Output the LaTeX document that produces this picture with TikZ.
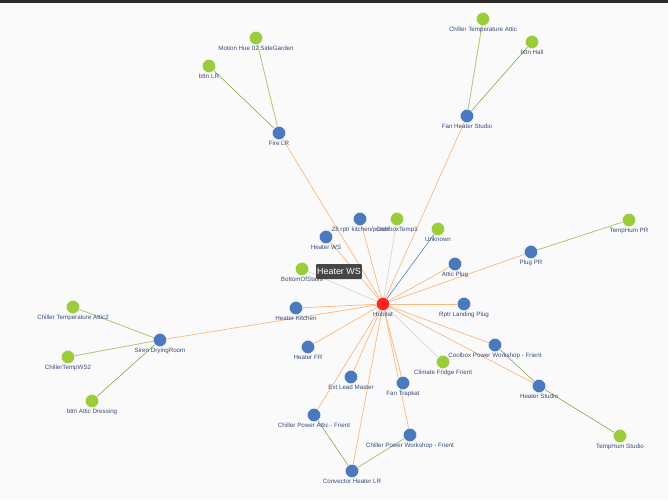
\documentclass[tikz,border=0pt]{standalone}
\usepackage{fontspec}
\setmainfont{Liberation Sans}
\usepackage{xcolor}
\usepackage{tikz}
\usetikzlibrary{backgrounds}
\definecolor{hbbg}{RGB}{250,250,250}
\definecolor{hbbar}{RGB}{45,41,38}
\definecolor{hbblue}{RGB}{74,122,189}
\definecolor{hbgreen}{RGB}{154,204,60}
\definecolor{hbred}{RGB}{255,36,36}
\definecolor{hbtext}{RGB}{58,76,124}
\definecolor{hborange}{RGB}{250,184,126}
\definecolor{hbgrn}{RGB}{170,202,120}
\definecolor{hbgrndk}{RGB}{124,158,66}
\definecolor{hbgray}{RGB}{214,214,214}
\definecolor{hbedgeblue}{RGB}{92,124,184}

\tikzset{
  dev/.style={circle, fill=#1, draw=white, line width=0.3pt, minimum size=0.4cm, inner sep=0pt},
  lbl/.style={font=\fontsize{5.3}{6}\selectfont, text=hbtext, inner sep=0.6pt, label distance=0pt},
  hubedge/.style={hborange, line width=0.6pt},
  gedge/.style={hbgrn, line width=0.7pt},
  gedgedk/.style={hbgrndk, line width=0.45pt},
  tipbox/.style={fill=black!76, fill opacity=0.95, text opacity=1, text=white, rounded corners=1pt,
    font=\fontsize{7.6}{9}\selectfont, minimum width=1.32cm, minimum height=0.45cm, inner sep=1pt}
}

\begin{document}
\begin{tikzpicture}[x=0.03cm, y=-0.03cm]

% ---- hub ----
\node[dev=hbred, label={[lbl]below:Hubitat}] (hub) at (383,304) {};

% ---- blue devices ----
\node[dev=hbblue, label={[lbl]below:Fire LR}]                        (firelr)    at (279,133) {};
\node[dev=hbblue, label={[lbl]below:Fan Heater Studio}]              (fanhs)     at (467,116) {};
\node[dev=hbblue, label={[lbl]below:Z8 rptr kitchen/porch}]          (zrptr)     at (360,219) {};
\node[dev=hbblue, label={[lbl]below:Heater WS}]                      (heaterws)  at (326,237) {};
\node[dev=hbblue, label={[lbl]below:Attic Plug}]                     (atticplug) at (455,264) {};
\node[dev=hbblue, label={[lbl]below:Plug PR}]                        (plugpr)    at (531,252) {};
\node[dev=hbblue, label={[lbl]below:Heater Kitchen}]                 (heaterkit) at (296,308) {};
\node[dev=hbblue, label={[lbl]below:Rptr Landing Plug}]              (rptrland)  at (464,304) {};
\node[dev=hbblue, label={[lbl]below:Siren DryingRoom}]               (siren)     at (160,340) {};
\node[dev=hbblue, label={[lbl]below:Heater FR}]                      (heaterfr)  at (308,347) {};
\node[dev=hbblue, label={[lbl]below:Ext Lead Master}]                (extlead)   at (351,377) {};
\node[dev=hbblue, label={[lbl]below:Fan Trapkat}]                    (fantrap)   at (403,383) {};
\node[dev=hbblue, label={[lbl]below:Chiller Power Attic - Frient}]   (cpattic)   at (314,415) {};
\node[dev=hbblue, label={[lbl]below:Chiller Power Workshop - Frient}] (cpwork)   at (410,435) {};
\node[dev=hbblue, label={[lbl]below:Convector Heater LR}]            (convlr)    at (352,471) {};
\node[dev=hbblue, label={[lbl]below:Coolbox Power Workshop - Frient}] (coolpw)   at (495,345) {};
\node[dev=hbblue, label={[lbl]below:Heater Studio}]                  (heaterst)  at (539,386) {};

% ---- green sensors ----
\node[dev=hbgreen, label={[lbl]below:Motion Hue 02 SideGarden}]      (motion)    at (256,38) {};
\node[dev=hbgreen, label={[lbl]below:bttn LR}]                       (bttnlr)    at (209,66) {};
\node[dev=hbgreen, label={[lbl]below:Chiller Temperature Attic}]     (ctattic)   at (483,19) {};
\node[dev=hbgreen, label={[lbl]below:bttn Hall}]                     (bttnhall)  at (532,42) {};
\node[dev=hbgreen, label={[lbl]below:CoolboxTemp1}]                  (cooltemp)  at (397,219) {};
\node[dev=hbgreen, label={[lbl]below:Unknown}]                       (unknown)   at (438,229) {};
\node[dev=hbgreen, label={[lbl]below:BottomOfStairs}]                (bottom)    at (302,269) {};
\node[dev=hbgreen, label={[lbl]below:TempHum PR}]                    (temppr)    at (629,220) {};
\node[dev=hbgreen, label={[lbl]below:Chiller Temperature Attic2}]    (ctattic2)  at (73,307) {};
\node[dev=hbgreen, label={[lbl]below:ChillerTempWS2}]                (ctws2)     at (68,357) {};
\node[dev=hbgreen, label={[lbl]below:bttn Attic Dressing}]           (bttnad)    at (92,401) {};
\node[dev=hbgreen, label={[lbl]below:Climate Fridge Frient}]         (fridge)    at (443,362) {};
\node[dev=hbgreen, label={[lbl]below:TempHum Studio}]                (tempst)    at (620,436) {};

% ---- tooltip ----
\node[tipbox] (tip) at (339,271.5) {Heater WS};

\begin{scope}[on background layer]
% page and top bar
\fill[hbbg] (0,0) rectangle (668,500);
\fill[hbbar] (0,0) rectangle (668,3);

% hub links
\foreach \t in {firelr, fanhs, zrptr, heaterws, atticplug, plugpr, heaterkit, rptrland,
                siren, heaterfr, extlead, fantrap, cpattic, cpwork, convlr, coolpw, heaterst}
  \draw[hubedge] (hub) -- (\t);
\foreach \t in {cooltemp, bottom, fridge}
  \draw[hbgray, line width=0.6pt] (hub) -- (\t);
\draw[hbedgeblue, line width=0.5pt] (hub) -- (unknown);

% sensor links
\foreach \a/\b in {firelr/motion, fanhs/ctattic, plugpr/temppr, siren/ctattic2,
                   siren/ctws2, convlr/cpwork}
  \draw[gedge] (\a) -- (\b);
\foreach \a/\b in {firelr/bttnlr, fanhs/bttnhall, siren/bttnad, coolpw/heaterst,
                   heaterst/tempst, cpattic/convlr}
  \draw[gedgedk] (\a) -- (\b);
\end{scope}
\end{tikzpicture}
\end{document}
